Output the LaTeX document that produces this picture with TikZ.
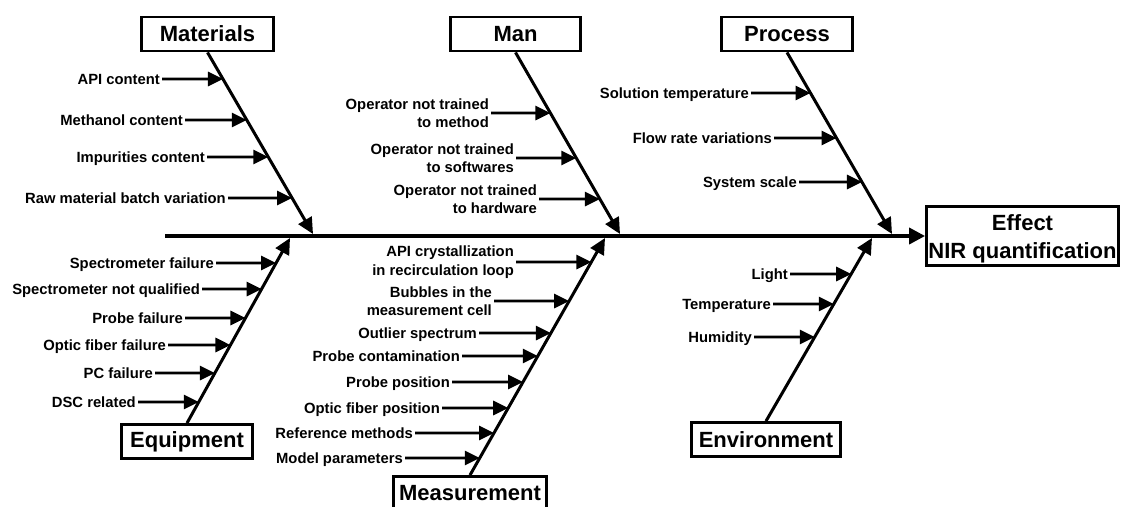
\documentclass[tikz,border=0pt]{standalone}
\usepackage{fontspec}
\setmainfont{Liberation Sans}
\usetikzlibrary{arrows.meta}
\begin{document}
\begin{tikzpicture}[x=1pt,y=-1pt,
  box/.style={draw,line width=2.8pt,font=\fontsize{22}{26}\selectfont\bfseries,inner sep=0pt,minimum height=34pt},
  cause/.style={anchor=east,inner sep=2pt,font=\fontsize{14.8}{18}\selectfont\bfseries,text height=10.6pt,text depth=0pt},
  causetwo/.style={anchor=east,inner sep=2pt,font=\fontsize{14.8}{18.5}\selectfont\bfseries,align=right},
  arr/.style={line width=2.8pt,-{Triangle[length=15pt,width=14pt]}},
  bone/.style={line width=3pt,-{Triangle[length=16pt,width=15pt]}},
  spine/.style={line width=3.6pt,-{Triangle[length=16pt,width=16pt]}}
]
\useasboundingbox (0,0) rectangle (1121,506);
\clip (0,0) rectangle (1121,506);

% category boxes
\node[box,minimum width=132pt] (mat) at (207.5,34) {Materials};
\node[box,minimum width=130pt] (man) at (515.5,34) {Man};
\node[box,minimum width=131pt] (pro) at (787,34) {Process};
\node[box,minimum width=131pt] (equ) at (187,441.5) {Equipment};
\node[box,minimum width=153pt] (mea) at (470,493.5) {Measurement};
\node[box,minimum width=149pt] (env) at (766,439.5) {Environment};
\node[box,minimum width=192pt,minimum height=59pt,align=center,font=\fontsize{22}{28}\selectfont\bfseries] (eff) at (1022.5,236) {\rule{0pt}{22pt}Effect\\NIR quantification};

% spine
\coordinate (s0) at (165,236);
\draw[spine] (s0) -- (eff.west);

% bone end points
\coordinate (matE) at (313,234);
\coordinate (manE) at (620,234);
\coordinate (proE) at (892,234);
\coordinate (equE) at (290,238);
\coordinate (meaE) at (605,238);
\coordinate (envE) at (872,238);

\draw[bone] (mat.south) -- (matE);
\draw[bone] (man.south) -- (manE);
\draw[bone] (pro.south) -- (proE);
\draw[bone] (equ.north) -- (equE);
\draw[bone] (mea.north) -- (meaE);
\draw[bone] (env.north) -- (envE);

% Materials
\node[cause] (m1) at (162,79) {API content};
\node[cause] (m2) at (185,120) {Methanol content};
\node[cause] (m3) at (207,157) {Impurities content};
\node[cause] (m4) at (228,198) {Raw material batch variation};
\foreach \n in {m1,m2,m3,m4}
  \draw[arr] (\n.east) -- (intersection of mat.south--matE and \n.west--\n.east);

% Man
\node[causetwo] (a1) at (491,113) {Operator not trained\\to method};
\node[causetwo] (a2) at (516,158) {Operator not trained\\to softwares};
\node[causetwo] (a3) at (539,199) {Operator not trained\\to hardware};
\foreach \n in {a1,a2,a3}
  \draw[arr] (\n.east) -- (intersection of man.south--manE and \n.west--\n.east);

% Process
\node[cause] (p1) at (751,93) {Solution temperature};
\node[cause] (p2) at (774,138) {Flow rate variations};
\node[cause] (p3) at (799,182) {System scale};
\foreach \n in {p1,p2,p3}
  \draw[arr] (\n.east) -- (intersection of pro.south--proE and \n.west--\n.east);

% Equipment
\node[cause] (e1) at (216,263) {Spectrometer failure};
\node[cause] (e2) at (202,289) {Spectrometer not qualified};
\node[cause] (e3) at (185,318) {Probe failure};
\node[cause] (e4) at (168,345) {Optic fiber failure};
\node[cause] (e5) at (155,373) {PC failure};
\node[cause] (e6) at (138,402) {DSC related};
\foreach \n in {e1,e2,e3,e4,e5,e6}
  \draw[arr] (\n.east) -- (intersection of equ.north--equE and \n.west--\n.east);

% Measurement
\node[causetwo] (r1) at (516,262) {API crystallization\\in recirculation loop};
\node[causetwo] (r2) at (494,301) {Bubbles in the\\measurement cell};
\node[cause] (r3) at (479,333) {Outlier spectrum};
\node[cause] (r4) at (462,356) {Probe contamination};
\node[cause] (r5) at (452,382) {Probe position};
\node[cause] (r6) at (442,408) {Optic fiber position};
\node[cause] (r7) at (415,433) {Reference methods};
\node[cause] (r8) at (405,458) {Model parameters};
\foreach \n in {r1,r2,r3,r4,r5,r6,r7,r8}
  \draw[arr] (\n.east) -- (intersection of mea.north--meaE and \n.west--\n.east);

% Environment
\node[cause] (v1) at (790,274) {Light};
\node[cause] (v2) at (773,304) {Temperature};
\node[cause] (v3) at (754,337) {Humidity};
\foreach \n in {v1,v2,v3}
  \draw[arr] (\n.east) -- (intersection of env.north--envE and \n.west--\n.east);
\end{tikzpicture}
\end{document}
